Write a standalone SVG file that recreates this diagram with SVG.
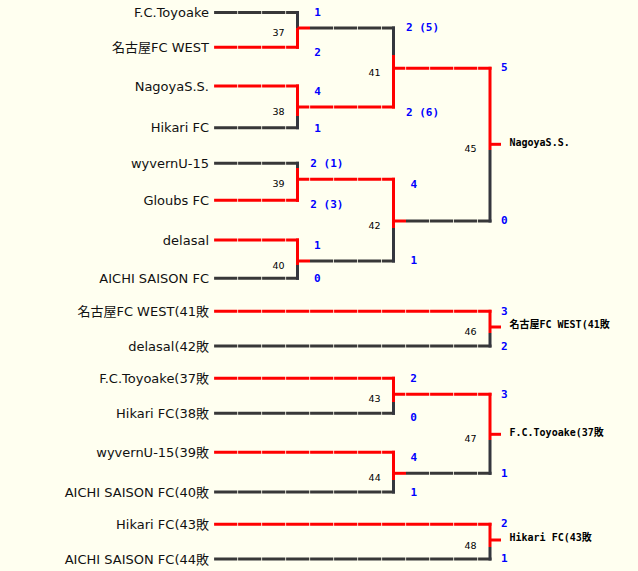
<svg xmlns="http://www.w3.org/2000/svg" width="638" height="571" viewBox="0 0 638 571">
<style>
.bg{fill:#FFFFF0}
.h{stroke-width:3;fill:none;stroke-dasharray:23.2 0.8}
.v{stroke-width:3;fill:none}
.s{stroke-width:3;fill:none}
.r{stroke:#FF0000}
.d{stroke:#383838}
.dv{stroke:#34363e}
.o1{stroke-dashoffset:11.4}
.team{font-family:"DejaVu Sans","Noto Sans CJK JP",sans-serif;font-size:13px;fill:#111;text-anchor:end}
.num{font-family:"DejaVu Sans",sans-serif;font-size:9.5px;fill:#000;text-anchor:end}
.sc{font-family:"DejaVu Sans Mono","Liberation Mono",monospace;font-weight:bold;font-size:11px;fill:#0000FF;text-anchor:middle}
.scs{font-family:"DejaVu Sans Mono","Liberation Mono",monospace;font-weight:bold;font-size:11px;fill:#0000FF;text-anchor:start}
.win{font-family:"DejaVu Sans Mono","Noto Sans CJK JP",monospace;font-weight:bold;font-size:10px;fill:#000}
</style>
<rect class="bg" x="0" y="0" width="638" height="571"/>
<g id="connectors">
  <!-- round 1 inputs -->
  <line class="h d" x1="214.1" y1="12.5" x2="299" y2="12.5"/>
  <line class="h r" x1="214.1" y1="47.3" x2="299" y2="47.3"/>
  <line class="h r" x1="214.1" y1="86" x2="299" y2="86"/>
  <line class="h d" x1="214.1" y1="127.7" x2="299" y2="127.7"/>
  <line class="h d" x1="214.1" y1="163.3" x2="299" y2="163.3"/>
  <line class="h r" x1="214.1" y1="200.3" x2="299" y2="200.3"/>
  <line class="h r" x1="214.1" y1="240" x2="299" y2="240"/>
  <line class="h d" x1="214.1" y1="278.3" x2="299" y2="278.3"/>
  <line class="h r" x1="214.1" y1="378.3" x2="395" y2="378.3"/>
  <line class="h d" x1="214.1" y1="413.3" x2="395" y2="413.3"/>
  <line class="h r" x1="214.1" y1="452.3" x2="395" y2="452.3"/>
  <line class="h d" x1="214.1" y1="492" x2="395" y2="492"/>
  <line class="h r" x1="214.1" y1="311.3" x2="491.5" y2="311.3"/>
  <line class="h d" x1="214.1" y1="346" x2="491.5" y2="346"/>
  <line class="h r" x1="214.1" y1="524.3" x2="491.5" y2="524.3"/>
  <line class="h d" x1="214.1" y1="559" x2="491.5" y2="559"/>
  <!-- verticals x=297.5 -->
  <line class="v dv" x1="297.5" y1="11" x2="297.5" y2="28"/>
  <line class="v r" x1="297.5" y1="28" x2="297.5" y2="48.8"/>
  <line class="v r" x1="297.5" y1="84.5" x2="297.5" y2="116"/>
  <line class="v dv" x1="297.5" y1="116" x2="297.5" y2="129.2"/>
  <line class="v dv" x1="297.5" y1="161.8" x2="297.5" y2="168"/>
  <line class="v r" x1="297.5" y1="168" x2="297.5" y2="201.8"/>
  <line class="v r" x1="297.5" y1="238.5" x2="297.5" y2="265"/>
  <line class="v dv" x1="297.5" y1="265" x2="297.5" y2="279.8"/>
  <!-- outputs from x=297.5 -->
  <line class="s r" x1="297.5" y1="28" x2="310" y2="28"/>
  <line class="h d" x1="310" y1="28" x2="395" y2="28"/>
  <line class="h r o1" x1="297.5" y1="107" x2="395" y2="107"/>
  <line class="h r o1" x1="297.5" y1="179.3" x2="395" y2="179.3"/>
  <line class="s r" x1="297.5" y1="261" x2="310" y2="261"/>
  <line class="h d" x1="310" y1="261" x2="395" y2="261"/>
  <!-- verticals x=393.5 -->
  <line class="v dv" x1="393.5" y1="26.5" x2="393.5" y2="55"/>
  <line class="v r" x1="393.5" y1="55" x2="393.5" y2="108.5"/>
  <line class="v r" x1="393.5" y1="177.8" x2="393.5" y2="228"/>
  <line class="v dv" x1="393.5" y1="228" x2="393.5" y2="262.5"/>
  <line class="v r" x1="393.5" y1="376.8" x2="393.5" y2="402"/>
  <line class="v dv" x1="393.5" y1="402" x2="393.5" y2="414.8"/>
  <line class="v r" x1="393.5" y1="450.8" x2="393.5" y2="480"/>
  <line class="v dv" x1="393.5" y1="480" x2="393.5" y2="493.5"/>
  <!-- outputs from x=393.5 -->
  <line class="h r o1" x1="393.5" y1="68.3" x2="491.5" y2="68.3"/>
  <line class="s r" x1="393.5" y1="221" x2="406" y2="221"/>
  <line class="h d" x1="406" y1="221" x2="491.5" y2="221"/>
  <line class="h r o1" x1="393.5" y1="394.3" x2="491.5" y2="394.3"/>
  <line class="s r" x1="393.5" y1="473.3" x2="406" y2="473.3"/>
  <line class="h d" x1="406" y1="473.3" x2="491.5" y2="473.3"/>
  <!-- verticals x=490 -->
  <line class="v r" x1="490" y1="66.8" x2="490" y2="150"/>
  <line class="v dv" x1="490" y1="150" x2="490" y2="222.5"/>
  <line class="v r" x1="490" y1="309.8" x2="490" y2="333"/>
  <line class="v dv" x1="490" y1="333" x2="490" y2="347.5"/>
  <line class="v r" x1="490" y1="392.8" x2="490" y2="440"/>
  <line class="v dv" x1="490" y1="440" x2="490" y2="474.8"/>
  <line class="v r" x1="490" y1="522.8" x2="490" y2="547"/>
  <line class="v dv" x1="490" y1="547" x2="490" y2="560.5"/>
  <!-- winner stubs -->
  <line class="s r" x1="490" y1="144.3" x2="501" y2="144.3"/>
  <line class="s r" x1="490" y1="327" x2="501" y2="327"/>
  <line class="s r" x1="490" y1="434.3" x2="501" y2="434.3"/>
  <line class="s r" x1="490" y1="540" x2="501" y2="540"/>
</g>
<g id="team-1"><text class="team" x="209" y="17">F.C.Toyoake</text></g>
<g id="team-2"><text class="team" x="209" y="51.8">名古屋FC WEST</text></g>
<g id="team-3"><text class="team" x="209" y="90.5">NagoyaS.S.</text></g>
<g id="team-4"><text class="team" x="209" y="132.2">Hikari FC</text></g>
<g id="team-5"><text class="team" x="209" y="167.8">wyvernU-15</text></g>
<g id="team-6"><text class="team" x="209" y="204.8">Gloubs FC</text></g>
<g id="team-7"><text class="team" x="209" y="244.5">delasal</text></g>
<g id="team-8"><text class="team" x="209" y="282.8">AICHI SAISON FC</text></g>
<g id="team-9"><text class="team" x="209" y="315.8">名古屋FC WEST(41敗</text></g>
<g id="team-10"><text class="team" x="209" y="350.5">delasal(42敗</text></g>
<g id="team-11"><text class="team" x="209" y="382.8">F.C.Toyoake(37敗</text></g>
<g id="team-12"><text class="team" x="209" y="417.8">Hikari FC(38敗</text></g>
<g id="team-13"><text class="team" x="209" y="456.8">wyvernU-15(39敗</text></g>
<g id="team-14"><text class="team" x="209" y="496.5">AICHI SAISON FC(40敗</text></g>
<g id="team-15"><text class="team" x="209" y="528.8">Hikari FC(43敗</text></g>
<g id="team-16"><text class="team" x="209" y="563.5">AICHI SAISON FC(44敗</text></g>
<g id="match-37"><text class="num" x="284.5" y="36">37</text><text class="sc" x="317.5" y="16">1</text><text class="sc" x="317.5" y="55.7">2</text></g>
<g id="match-38"><text class="num" x="284.5" y="115">38</text><text class="sc" x="317.5" y="94.7">4</text><text class="sc" x="317.5" y="131.7">1</text></g>
<g id="match-39"><text class="num" x="284.5" y="187.3">39</text><text class="scs" x="310.3" y="166.7">2 (1)</text><text class="scs" x="310.3" y="208.3">2 (3)</text></g>
<g id="match-40"><text class="num" x="284.5" y="269">40</text><text class="sc" x="317.3" y="248.7">1</text><text class="sc" x="317.3" y="282.3">0</text></g>
<g id="match-41"><text class="num" x="380.5" y="76">41</text><text class="scs" x="406" y="31.3">2 (5)</text><text class="scs" x="406" y="115.7">2 (6)</text></g>
<g id="match-42"><text class="num" x="380.5" y="229.2">42</text><text class="sc" x="413.7" y="187.7">4</text><text class="sc" x="413.7" y="264">1</text></g>
<g id="match-43"><text class="num" x="380.5" y="401.8">43</text><text class="sc" x="413.5" y="381.7">2</text><text class="sc" x="413.5" y="421.3">0</text></g>
<g id="match-44"><text class="num" x="380.7" y="481.2">44</text><text class="sc" x="413.7" y="460.7">4</text><text class="sc" x="413.7" y="495.7">1</text></g>
<g id="match-45"><text class="num" x="476.5" y="152.2">45</text><text class="sc" x="504.3" y="71.3">5</text><text class="sc" x="504.3" y="224.3">0</text></g>
<g id="match-46"><text class="num" x="476.5" y="335.2">46</text><text class="sc" x="504.3" y="314.7">3</text><text class="sc" x="504.3" y="349.7">2</text></g>
<g id="match-47"><text class="num" x="476.5" y="441.8">47</text><text class="sc" x="504.3" y="397.7">3</text><text class="sc" x="504.3" y="476.7">1</text></g>
<g id="match-48"><text class="num" x="476.5" y="548.5">48</text><text class="sc" x="504.3" y="527.3">2</text><text class="sc" x="504.3" y="562.3">1</text></g>
<g id="winner-45"><text class="win" x="509.5" y="145.6">NagoyaS.S.</text></g>
<g id="winner-46"><text class="win" x="509.5" y="328.3">名古屋FC WEST(41敗</text></g>
<g id="winner-47"><text class="win" x="509.5" y="435.5">F.C.Toyoake(37敗</text></g>
<g id="winner-48"><text class="win" x="509.5" y="541.2">Hikari FC(43敗</text></g>
</svg>
